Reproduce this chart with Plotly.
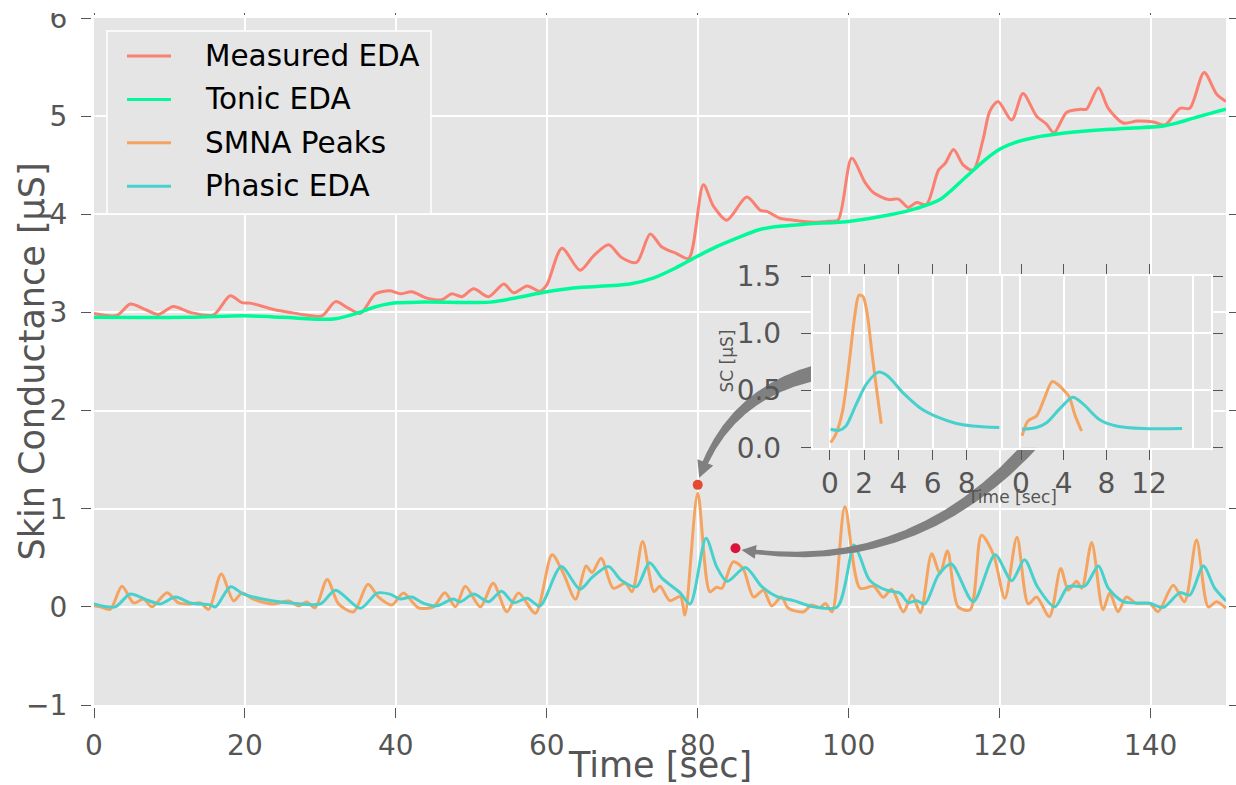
import numpy as np
import plotly.graph_objects as go

# ---------------- data ----------------
measured_t = [0, 3.05, 4.8, 6.8, 8.56, 10.5, 12.76, 15.84, 18.05, 19.6, 20.7, 23.8, 26.0, 27.8, 30.2,
              32.0, 33.7, 35.3, 37.3, 39.25, 40.6, 42.1, 44.1, 46.1, 47.4, 48.75, 50.3, 52.3, 54.3,
              55.6, 57.4, 59.1, 60.0, 62.0, 64.4, 66.2, 68.2, 69.9, 71.9, 73.7, 75.2, 77.2, 78.8,
              80.75, 82.1, 83.85, 86.5, 88.3, 89.15, 90.9, 92.7, 95.3, 97.5, 98.6, 100.4, 102.2,
              103.3, 105.3, 106.6, 107.9, 109.0, 110.3, 111.9, 112.8, 113.9, 115.2, 116.5, 117.8,
              118.7, 119.8, 121.6, 123.1, 124.9, 126.2, 127.2, 128.9, 130.7, 131.5, 133.1, 134.4,
              136.4, 138.2, 140.4, 141.9, 143.9, 145.2, 147.1, 148.8, 150]
measured_v = [2.99, 2.97, 3.085, 3.03, 2.98, 3.06, 3.0, 2.976, 3.17, 3.10, 3.095, 3.03, 3.0, 2.976, 2.965,
              3.11, 3.044, 2.99, 3.19, 3.22, 3.19, 3.21, 3.146, 3.13, 3.19, 3.16, 3.24, 3.16, 3.29,
              3.20, 3.27, 3.215, 3.28, 3.655, 3.43, 3.577, 3.69, 3.56, 3.51, 3.80, 3.67, 3.60, 3.55,
              4.30, 4.08, 3.94, 4.175, 4.04, 4.03, 3.96, 3.94, 3.92, 3.93, 3.94, 4.57, 4.32,
              4.22, 4.15, 4.155, 4.07, 4.12, 4.10, 4.45, 4.52, 4.66, 4.50, 4.45, 4.76,
              5.05, 5.15, 4.96, 5.23, 5.00, 4.92, 4.83, 5.04, 5.07, 5.07, 5.29, 5.08,
              4.93, 4.95, 4.94, 4.91, 5.08, 5.08, 5.445, 5.22, 5.15]

tonic_t = [0, 12.8, 19.8, 25, 30.4, 32, 34.8, 37, 39.7, 43.7, 52.5, 56, 60.0, 63.5, 71.0, 74.1, 77,
           79.9, 82.5, 85.6, 88, 90.0, 94.4, 100.2, 105.5, 109, 112.1, 115.6, 118, 120.05, 122,
           124.5, 128.9, 135.5, 141.7, 143.5, 145.7, 150]
tonic_v = [2.95, 2.95, 2.965, 2.95, 2.93, 2.935, 2.99, 3.05, 3.095, 3.105, 3.105, 3.15, 3.21, 3.25,
           3.29, 3.35, 3.45, 3.57, 3.67, 3.77, 3.84, 3.87, 3.90, 3.93, 3.995, 4.06, 4.15, 4.385,
           4.55, 4.665, 4.73, 4.78, 4.83, 4.87, 4.90, 4.93, 4.98, 5.07]

smna_t = [0, 0.83, 2.16, 3.7, 5.25, 6.57, 7.68, 9.67, 11.2, 12.75, 14.08, 15.2, 16.86, 18.5, 19.6,
          21.1, 23.8, 25.8, 27.1, 28.2, 29.3, 30.9, 32.4, 34.4, 36.3, 37.7, 39.5, 41.0, 43.0, 45.0,
          46.5, 47.9, 49.2, 51.2, 52.9, 54.7, 56.25, 58.5, 60.7, 62.2, 63.8, 65.2, 66.0, 67.2,
          68.8, 70.4, 71.3, 72.7, 74.2, 75.0, 76.3, 77.7, 78.3, 80.0, 81.6, 82.5, 83.2, 84.7,
          86.0, 87.4, 88.7, 89.8, 91.1, 92.0, 94.0, 95.1, 96.2, 96.9, 97.8, 99.5, 101.5, 103.3,
          104.6, 105.7, 107.25, 108.4, 109.5, 111.0, 112.1, 113.1, 114.5, 116.1, 117.6, 119.2,
          120.7, 122.3, 123.8, 124.9, 126.6, 128.1, 129.1, 130.2, 130.9, 132.2, 133.7, 134.6,
          135.7, 136.8, 138.1, 139.9, 141.0, 143.0, 144.5, 146.1, 147.65, 148.75, 150]
smna_v = [0.01, 0.0, -0.025, 0.21, 0.04, 0.08, 0.0, 0.145, 0.04, 0.03, 0.04, -0.025, 0.335, 0.06, 0.14,
          0.08, 0.03, 0.06, 0.01, 0.05, -0.01, 0.28, 0.03, -0.05, 0.23, 0.10, 0.02, 0.14, -0.01, 0.0,
          0.145, 0.0, 0.21, 0.0, 0.24, -0.05, 0.14, -0.065, 0.53, 0.34, 0.077, 0.416, 0.35, 0.495,
          0.19, 0.24, 0.155, 0.665, 0.155, 0.21, 0.063, 0.104, -0.083, 1.157, 0.155, 0.20, 0.19, 0.46,
          0.39, 0.10, 0.17, 0.01, 0.10, -0.015, -0.05, 0.02, -0.01, 0.035, -0.05, 1.02, 0.19, 0.21,
          0.097, 0.18, -0.05, 0.12, -0.06, 0.54, 0.34, 0.57, 0.0, -0.03, 0.73, 0.53,
          0.087, 0.71, 0.03, 0.10, -0.10, 0.39, 0.17, 0.26, 0.19, 0.655, -0.03, 0.14,
          -0.05, 0.10, 0.035, 0.035, -0.05, 0.22, 0.053, 0.68, 0.0, 0.053, -0.015]

phasic_t = [0, 2.8, 4.8, 7.0, 8.8, 10.8, 12.75, 15.4, 16.1, 18.1, 19.8, 23.8, 26.0, 30.0, 32.0, 35.3,
            37.5, 39.2, 40.6, 42.1, 43.7, 45.4, 47.6, 48.5, 50.3, 52.3, 54.0, 55.6, 57.4, 59.1, 61.9,
            64.4, 66.0, 68.2, 69.8, 71.9, 73.6, 75.3, 77.7, 79.0, 81.1, 82.5, 83.9, 86.3, 88.5, 90.5,
            92.7, 95.4, 98.5, 100.7, 101.5, 102.8, 105.0, 106.8, 107.9, 109.0, 110.1, 111.9, 113.6,
            116.5, 119.4, 121.6, 123.3, 125.0, 127.3, 129.1, 131.3, 133.1, 134.4, 136.4, 139.9,
            141.7, 143.9, 145.2, 147.0, 148.5, 150]
phasic_v = [0.03, 0.0, 0.13, 0.07, 0.03, 0.10, 0.04, 0.02, 0.0, 0.205, 0.13, 0.06, 0.04, 0.03, 0.17, -0.015,
            0.14, 0.13, 0.08, 0.10, 0.035, 0.01, 0.08, 0.05, 0.13, 0.053, 0.16, 0.043, 0.087, 0.01, 0.41,
            0.18, 0.30, 0.41, 0.275, 0.206, 0.45, 0.29, 0.14, 0.03, 0.70, 0.41, 0.26, 0.40, 0.206, 0.104,
            0.063, 0.0, 0.0, 0.63, 0.51, 0.27, 0.17, 0.14, 0.043, 0.063, 0.03, 0.325, 0.436,
            0.053, 0.53, 0.267, 0.48, 0.206, 0.0, 0.206, 0.213, 0.416, 0.19, 0.053, 0.036,
            -0.005, 0.145, 0.12, 0.416, 0.19, 0.06]

# inset: first SMNA event (left) and second event (right)
ev1_smna_t = [0.04, 0.34, 0.74, 1.14, 1.44, 1.7, 1.94, 2.18, 2.44, 2.74, 3.0]
ev1_smna_v = [0.044, 0.117, 0.32, 0.76, 1.14, 1.333, 1.318, 1.17, 0.85, 0.498, 0.21]
ev1_phasic_t = [0.04, 0.54, 0.94, 1.54, 2.14, 2.84, 3.34, 4.34, 5.34, 6.34, 7.34, 8.34, 9.9]
ev1_phasic_v = [0.161, 0.152, 0.19, 0.38, 0.557, 0.66, 0.63, 0.47, 0.34, 0.264, 0.214, 0.19, 0.176]
ev2_smna_t = [0.1, 0.65, 1.46, 2.1, 2.92, 3.4, 4.05, 4.54, 5.03, 5.68]
ev2_smna_v = [0.103, 0.234, 0.278, 0.41, 0.577, 0.557, 0.498, 0.44, 0.293, 0.146]
ev2_phasic_t = [0.1, 1.46, 2.43, 3.73, 4.87, 5.84, 7.3, 8.92, 11.5, 15.1]
ev2_phasic_v = [0.161, 0.176, 0.22, 0.35, 0.44, 0.38, 0.249, 0.19, 0.167, 0.167]

marker_t = [80, 85]
marker_v = [1.243, 0.597]

x_ticks = [0, 20, 40, 60, 80, 100, 120, 140]
y_ticks = [-1, 0, 1, 2, 3, 4, 5, 6]
inset_y_ticks = [0, 0.5, 1.0, 1.5]
inset_y_text = ["0.0", "0.5", "1.0", "1.5"]
ev1_x_ticks = [0, 2, 4, 6, 8]
ev2_x_ticks = [0, 4, 8, 12]

# ---------------- layout geometry ----------------
W, H = 1236, 785
ML, MR, MT, MB = 94, 10, 18, 80
PW, PH = W - ML - MR, H - MT - MB
XR, YR = [0, 150], [-1, 6]
FONT = "DejaVu Sans"
GREY_TXT = "#555555"
BG = "#E5E5E5"

def domx(px):
    return (px - ML) / PW

def domy(py):
    return (H - MB - py) / PH

def x2px(x):
    return ML + (x - XR[0]) / (XR[1] - XR[0]) * PW

def y2py(y):
    return MT + (YR[1] - y) / (YR[1] - YR[0]) * PH

def px2x(px):
    return XR[0] + (np.asarray(px) - ML) / PW * (XR[1] - XR[0])

def py2y(py):
    return YR[1] - (np.asarray(py) - MT) / PH * (YR[1] - YR[0])

def fancy_arrow(p0, p1, p2, tail_w, head_w, head_l, n=400):
    p0, p1, p2 = (np.asarray(p, float) for p in (p0, p1, p2))
    t = np.linspace(0, 1, n)
    pts = ((1 - t) ** 2)[:, None] * p0 + (2 * t * (1 - t))[:, None] * p1 + (t ** 2)[:, None] * p2
    der = 2 * (1 - t)[:, None] * (p1 - p0) + 2 * t[:, None] * (p2 - p1)
    seg = np.hypot(*np.diff(pts, axis=0).T)
    cum = np.concatenate([[0], np.cumsum(seg)])
    k = int(np.searchsorted(cum, cum[-1] - head_l))
    tail, dt = pts[:k + 1], der[:k + 1]
    nrm = np.stack([-dt[:, 1], dt[:, 0]], axis=1)
    nrm /= np.linalg.norm(nrm, axis=1)[:, None]
    s = np.linspace(0, 1, len(tail))
    w = tail_w * (1 - 0.9 * s + 0.2 * s ** 2) / 2
    left = tail + nrm * w[:, None]
    right = tail - nrm * w[:, None]
    base = pts[k]
    dv = p2 - base
    hn = np.array([-dv[1], dv[0]]) / np.hypot(*dv)
    hl = base + hn * head_w / 2
    hr = base - hn * head_w / 2
    poly = np.vstack([left, hl, p2, hr, right[::-1], left[:1]])
    return px2x(poly[:, 0]), py2y(poly[:, 1])

C_MEAS = "#FA8072"
C_TONIC = "#00FA9A"
C_SMNA = "#F4A460"
C_PHASIC = "#48D1CC"

fig = go.Figure()
line_kw = dict(shape="spline", smoothing=0.8)
fig.add_trace(go.Scatter(x=measured_t, y=measured_v, mode="lines", name="Measured EDA",
                         line=dict(color=C_MEAS, width=3, **line_kw)))
fig.add_trace(go.Scatter(x=tonic_t, y=tonic_v, mode="lines", name="Tonic EDA",
                         line=dict(color=C_TONIC, width=3.5, **line_kw)))
fig.add_trace(go.Scatter(x=smna_t, y=smna_v, mode="lines", name="SMNA Peaks",
                         line=dict(color=C_SMNA, width=3, **line_kw)))
fig.add_trace(go.Scatter(x=phasic_t, y=phasic_v, mode="lines", name="Phasic EDA",
                         line=dict(color=C_PHASIC, width=3, **line_kw)))

# curved arrows from the inset to the two marked events
d1 = (x2px(marker_t[0]), y2py(marker_v[0]))
d2 = (x2px(marker_t[1]), y2py(marker_v[1]))
ax1, ay1 = fancy_arrow((860, 366), (735, 375), (d1[0] + 1.5, d1[1] - 7), 19, 17, 17)
ax2, ay2 = fancy_arrow((1060, 410), (932, 580), (d2[0] + 6, d2[1] + 1.7), 15, 14, 15)
for axx, ayy in ((ax1, ay1), (ax2, ay2)):
    fig.add_trace(go.Scatter(x=axx, y=ayy, mode="lines", fill="toself", fillcolor="#808080",
                             line=dict(width=0, color="#808080"), hoverinfo="skip", showlegend=False))

fig.add_trace(go.Scatter(x=marker_t, y=marker_v, mode="markers", showlegend=False,
                         marker=dict(size=10, color=["#E24A33", "#DC143C"], line=dict(width=0))))

# inset traces
fig.add_trace(go.Scatter(x=ev1_smna_t, y=ev1_smna_v, mode="lines", xaxis="x3", yaxis="y3",
                         showlegend=False, line=dict(color=C_SMNA, width=3, **line_kw)))
fig.add_trace(go.Scatter(x=ev1_phasic_t, y=ev1_phasic_v, mode="lines", xaxis="x3", yaxis="y3",
                         showlegend=False, line=dict(color=C_PHASIC, width=3, **line_kw)))
fig.add_trace(go.Scatter(x=ev2_smna_t, y=ev2_smna_v, mode="lines", xaxis="x4", yaxis="y4",
                         showlegend=False, line=dict(color=C_SMNA, width=3, **line_kw)))
fig.add_trace(go.Scatter(x=ev2_phasic_t, y=ev2_phasic_v, mode="lines", xaxis="x4", yaxis="y4",
                         showlegend=False, line=dict(color=C_PHASIC, width=3, **line_kw)))
# invisible trace to instantiate the inset frame axes
fig.add_trace(go.Scatter(x=[0.5], y=[0.75], mode="markers", xaxis="x2", yaxis="y2",
                         marker=dict(opacity=0), hoverinfo="skip", showlegend=False))

tickfont = dict(family=FONT, size=28, color=GREY_TXT)
main_ax = dict(showgrid=True, gridcolor="white", gridwidth=1.5, zeroline=False, showline=False,
               ticks="outside", ticklen=12, tickwidth=1, tickcolor=GREY_TXT, mirror="ticks",
               tickfont=tickfont)

in_top, in_bot = 276, 447.7
inset_frame = dict(showline=True, linecolor="white", linewidth=2, zeroline=False)

fig.update_layout(
    width=W, height=H, margin=dict(l=ML, r=MR, t=MT, b=MB, autoexpand=False),
    paper_bgcolor="white", plot_bgcolor=BG, showlegend=False,
    font=dict(family=FONT, color=GREY_TXT),
    xaxis=dict(range=XR, tickvals=x_ticks, ticklabelstandoff=3, **main_ax),
    yaxis=dict(range=YR, tickvals=y_ticks, ticklabelstandoff=8, **main_ax),
    xaxis2=dict(domain=[domx(812.8), domx(1211)], anchor="y2", range=[0, 1], showgrid=False,
                showticklabels=False, ticks="", mirror=True, **inset_frame),
    yaxis2=dict(domain=[domy(in_bot), domy(in_top)], anchor="x2", range=[0, 1.5],
                tickvals=inset_y_ticks, ticktext=inset_y_text, ticks="outside", ticklen=10,
                tickcolor=GREY_TXT, mirror="ticks", showgrid=True, gridcolor="white", gridwidth=1.5,
                tickfont=tickfont, ticklabelstandoff=14, **inset_frame),
    xaxis3=dict(domain=[domx(812.8), domx(1001)], anchor="y3", range=[-1, 10], tickvals=ev1_x_ticks,
                ticks="outside", ticklen=10, tickcolor=GREY_TXT, mirror="ticks", showgrid=True,
                gridcolor="white", gridwidth=1.5, tickfont=tickfont, ticklabelstandoff=0, **inset_frame),
    yaxis3=dict(domain=[domy(in_bot), domy(in_top)], anchor="x3", range=[0, 1.5], tickvals=[0.5, 1.0],
                showticklabels=False, ticks="", mirror=True, showgrid=True, gridcolor="white",
                gridwidth=1.5, **inset_frame),
    xaxis4=dict(domain=[domx(1021), domx(1191.7)], anchor="y4", range=[0, 16], tickvals=ev2_x_ticks,
                ticks="outside", ticklen=10, tickcolor=GREY_TXT, mirror="ticks", showgrid=True,
                gridcolor="white", gridwidth=1.5, tickfont=tickfont, ticklabelstandoff=0, **inset_frame),
    yaxis4=dict(domain=[domy(in_bot), domy(in_top)], anchor="x4", range=[0, 1.5], tickvals=[0.5, 1.0],
                showticklabels=False, ticks="", mirror=True, showgrid=True, gridcolor="white",
                gridwidth=1.5, **inset_frame),
)

# axis titles
fig.add_annotation(text="Time [sec]", x=domx(660), y=domy(765), xref="paper", yref="paper",
                   showarrow=False, xanchor="center", yanchor="middle",
                   font=dict(family=FONT, size=35, color=GREY_TXT))
fig.add_annotation(text="Skin Conductance [µS]", x=domx(31), y=domy(361.5), xref="paper", yref="paper",
                   showarrow=False, textangle=-90, xanchor="center", yanchor="middle",
                   font=dict(family=FONT, size=35, color=GREY_TXT))
fig.add_annotation(text="SC [µS]", x=domx(726), y=domy(361.5), xref="paper", yref="paper",
                   showarrow=False, textangle=-90, xanchor="center", yanchor="middle",
                   font=dict(family=FONT, size=17, color=GREY_TXT))
fig.add_annotation(text="Time [sec]", x=domx(1012), y=domy(497), xref="paper", yref="paper",
                   showarrow=False, xanchor="center", yanchor="middle",
                   font=dict(family=FONT, size=17, color=GREY_TXT))

# legend box drawn in the upper-left corner
shapes = []
shapes.append(dict(type="rect", xref="paper", yref="paper", x0=domx(107), x1=domx(431),
                   y0=domy(214), y1=domy(31), fillcolor=BG, line=dict(color="white", width=1.5),
                   layer="above"))
legend_items = [("Measured EDA", C_MEAS), ("Tonic EDA", C_TONIC), ("SMNA Peaks", C_SMNA),
                ("Phasic EDA", C_PHASIC)]
for i, (name, col) in enumerate(legend_items):
    yc = 56 + i * 43.4
    shapes.append(dict(type="line", xref="paper", yref="paper", x0=domx(127), x1=domx(171),
                       y0=domy(yc), y1=domy(yc), line=dict(color=col, width=3), layer="above"))
    fig.add_annotation(text=name, x=domx(203), y=domy(yc), xref="paper", yref="paper",
                       showarrow=False, xanchor="left", yanchor="middle",
                       font=dict(family=FONT, size=29.5, color="black"))

# white strips: top crop of the image and tick-root gaps
white = dict(fillcolor="white", line=dict(width=0), layer="above", xref="paper", yref="paper")
shapes.append(dict(type="rect", x0=domx(-5), x1=domx(W + 5), y0=domy(13), y1=domy(-5), **white))
shapes.append(dict(type="rect", x0=domx(ML - 3), x1=domx(ML), y0=domy(H - MB + 3), y1=domy(MT - 3), **white))
shapes.append(dict(type="rect", x0=domx(W - MR), x1=domx(W - MR + 3), y0=domy(H - MB + 3), y1=domy(MT - 3), **white))
shapes.append(dict(type="rect", x0=domx(ML - 3), x1=domx(W - MR + 3), y0=domy(MT), y1=domy(MT - 3), **white))
shapes.append(dict(type="rect", x0=domx(ML - 3), x1=domx(W - MR + 3), y0=domy(H - MB + 3), y1=domy(H - MB), **white))
fig.update_layout(shapes=shapes)

fig.write_html("out.html")
